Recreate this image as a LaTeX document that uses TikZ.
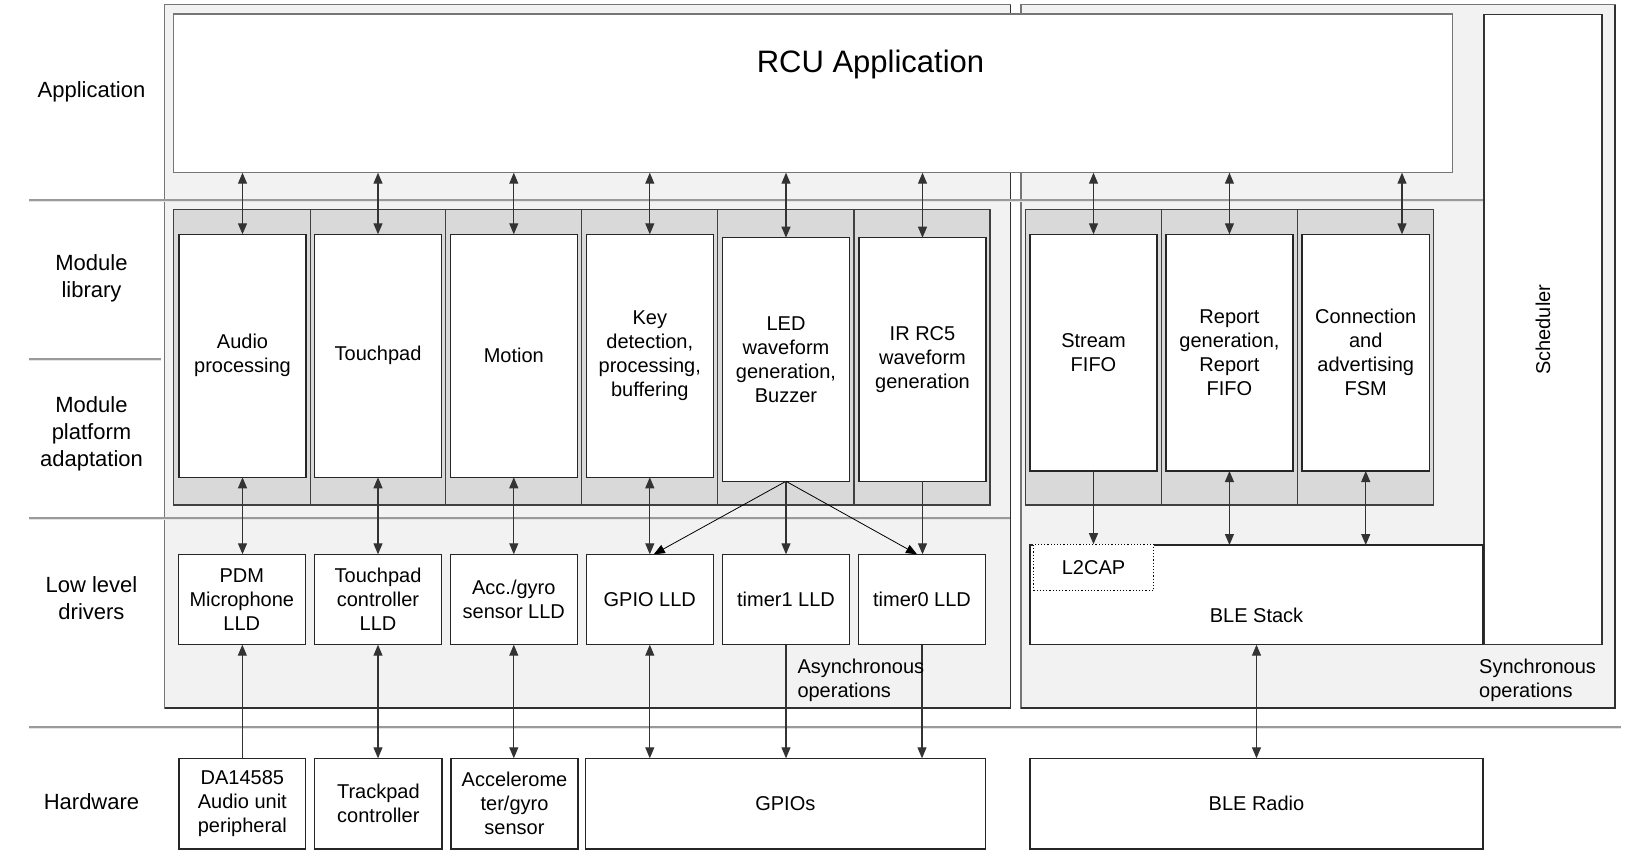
\documentclass[tikz,border=0pt]{standalone}
\usepackage{fontspec}
\setmainfont{Liberation Sans}
\usetikzlibrary{arrows.meta}
\definecolor{panelfill}{HTML}{F2F2F2}
\definecolor{cellfill}{HTML}{D9D9D9}
\definecolor{edge}{HTML}{767676}
\definecolor{pdark}{HTML}{303030}
\definecolor{sepdark}{HTML}{9A9A9A}
\definecolor{seplight}{HTML}{E4E4E4}
\newcommand{\mybox}[7]{\node[#6, minimum width={(#4-#2)*1pt}, minimum height={(#5-#3)*1pt}] (#1) at ({(#2+#4)/2},{(#3+#5)/2}) {#7};}
\tikzset{
  txt/.style={font=\fontsize{20}{24}\selectfont, align=center, text=black},
  lbl/.style={txt, inner sep=0pt},
  layerlbl/.style={lbl, font=\fontsize{22}{27}\selectfont},
  panel/.style={draw=edge, fill=panelfill, line width=1.2pt, inner sep=0pt, outer sep=0pt},
  wbox/.style={draw=black!85, fill=white, line width=1.2pt, inner sep=0pt, outer sep=0pt, txt},
  cellbox/.style={draw=black!75, fill=cellfill, line width=1.2pt, inner sep=0pt, outer sep=0pt},
  dar/.style={draw=black!80, line width=1.1pt, {Triangle[length=11pt,width=9pt]}-{Triangle[length=11pt,width=9pt]}},
  sar/.style={draw=black!80, line width=1.1pt, -{Triangle[length=11pt,width=9pt]}},
  thinar/.style={draw=black, line width=0.8pt, -{Triangle[length=11pt,width=9pt]}},
  sepd/.style={draw=sepdark, line width=1.2pt},
  sepl/.style={draw=seplight, line width=1.2pt},
}
\begin{document}
\begin{tikzpicture}[x=1pt,y=-1pt]
\useasboundingbox (0,0) rectangle (1631,864);
\fill[white] (0,0) rectangle (1631,864);

% panels
\mybox{lp}{164.7}{4.7}{1010.7}{708}{panel}{}
\mybox{rp}{1021}{4.7}{1615}{708}{panel}{}
\draw[pdark, line width=1.2pt] (lp.north east) -- (lp.south east) -- (lp.south west);
\draw[pdark, line width=1.2pt] (rp.north east) -- (rp.south east) -- (rp.south west);

% layer separators
\foreach \yy/\xa/\xb in {200/29/1484, 359/29/161, 518/29/1010, 727/29/1621} {
  \draw[sepd] (\xa,\yy) -- (\xb,\yy);
  \draw[sepl] (\xa,\yy+1.8) -- (\xb,\yy+1.8);
}

% layer labels
\node[layerlbl] (lapp) at (91.5,91.5) {Application};
\node[layerlbl] (lml) at (91.5,278.6) {Module\\library};
\node[layerlbl] (lmpa) at (91.5,434) {Module\\platform\\adaptation};
\node[layerlbl] (llld) at (91.5,598) {Low level\\drivers};
\node[layerlbl] (lhw) at (91.5,802) {Hardware};

% application
\mybox{rcu}{173.7}{14}{1452.2}{172.7}{wbox, draw=edge}{}
\node[font=\fontsize{31}{37}\selectfont, anchor=base, inner sep=0pt] (rcut) at (870.5,72.5) {RCU Application};
\mybox{sched}{1484}{14.7}{1602}{644.7}{wbox, draw=black!80}{}
\node[lbl, rotate=90] (schedt) at (sched.center) {Scheduler};

% module cells (left)
\mybox{cla}{173.7}{209.3}{310.3}{505}{cellbox}{}
\mybox{clb}{310.3}{209.3}{445.7}{505}{cellbox}{}
\mybox{clc}{445.7}{209.3}{581.7}{505}{cellbox}{}
\mybox{cld}{581.7}{209.3}{717.7}{505}{cellbox}{}
\mybox{cle}{717.7}{209.3}{854}{505}{cellbox}{}
\mybox{clf}{854}{209.3}{990}{505}{cellbox}{}
% module cells (right)
\mybox{cra}{1025.7}{209.3}{1161.5}{505}{cellbox}{}
\mybox{crb}{1161.5}{209.3}{1297.6}{505}{cellbox}{}
\mybox{crc}{1297.6}{209.3}{1433.8}{505}{cellbox}{}

% modules
\mybox{audio}{179}{234.3}{306}{477.3}{wbox}{Audio\\processing}
\mybox{touch}{314.7}{234.3}{441.3}{477.3}{wbox}{Touchpad}
\mybox{motion}{450.3}{234.3}{577.3}{477.3}{wbox}{Motion}
\mybox{key}{586.3}{234.3}{713.3}{477.3}{wbox}{Key\\detection,\\processing,\\buffering}
\mybox{led}{722.7}{237.7}{849.3}{481.3}{wbox}{LED\\waveform\\generation,\\Buzzer}
\mybox{ir}{859}{237.7}{986}{481.3}{wbox}{IR RC5\\waveform\\generation}
\mybox{stream}{1030}{234.3}{1157}{471}{wbox}{Stream\\FIFO}
\mybox{report}{1165.9}{234.3}{1293}{471}{wbox}{Report\\generation,\\Report\\FIFO}
\mybox{conn}{1302}{234.3}{1429.5}{471}{wbox}{Connection\\and\\advertising\\FSM}

% low level drivers
\mybox{pdm}{178.3}{554.3}{305.3}{644.7}{wbox}{PDM\\Microphone\\LLD}
\mybox{tpc}{314.7}{554.3}{441.3}{644.7}{wbox}{Touchpad\\controller\\LLD}
\mybox{acc}{450.3}{554.3}{577.3}{644.7}{wbox}{Acc./gyro\\sensor LLD}
\mybox{gpiolld}{586.3}{554.3}{713.3}{644.7}{wbox}{GPIO LLD}
\mybox{tmone}{722.7}{554.3}{849.3}{644.7}{wbox}{timer1 LLD}
\mybox{tmzero}{858.7}{554.3}{985.3}{644.7}{wbox}{timer0 LLD}
\mybox{ble}{1030}{545}{1483}{644.7}{wbox}{}
\node[lbl] (blet) at ([yshift=29pt]ble.south) {BLE Stack};
\mybox{ltwo}{1033.3}{544.2}{1153.8}{590.5}{wbox, draw=black, dotted, line width=0.9pt}{L2CAP}

% hardware
\mybox{da}{179}{758.3}{305.7}{849}{wbox}{DA14585\\Audio unit\\peripheral}
\mybox{track}{314.7}{758.3}{442}{849}{wbox}{Trackpad\\controller}
\mybox{accel}{451}{758.3}{578}{849}{wbox}{Accelerome\\ter/gyro\\sensor}
\mybox{gpios}{585.3}{758.3}{985.3}{849}{wbox}{GPIOs}
\mybox{radio}{1030}{758.3}{1483}{849}{wbox}{BLE Radio}

% application <-> modules
\draw[dar] (rcu.south -| audio.north) -- (audio.north);
\draw[dar] (rcu.south -| touch.north) -- (touch.north);
\draw[dar] (rcu.south -| motion.north) -- (motion.north);
\draw[dar] (rcu.south -| key.north) -- (key.north);
\draw[dar] (rcu.south -| led.north) -- (led.north);
\draw[dar] (rcu.south -| ir.north) -- (ir.north);
\draw[dar] (rcu.south -| stream.north) -- (stream.north);
\draw[dar] (rcu.south -| report.north) -- (report.north);
\coordinate (ctop) at (1402,234.3);
\draw[dar] (rcu.south -| ctop) -- (conn.north -| ctop);

% modules <-> drivers
\draw[dar] (audio.south) -- (audio.south |- pdm.north);
\draw[dar] (touch.south) -- (touch.south |- tpc.north);
\draw[dar] (motion.south) -- (motion.south |- acc.north);
\draw[dar] (key.south) -- (key.south |- gpiolld.north);
\draw[thinar] (led.south) -- ([xshift=4pt]gpiolld.north);
\draw[sar] (led.south) -- (tmone.north);
\draw[thinar] (led.south) -- ([xshift=-5pt]tmzero.north);
\draw[sar] (ir.south) -- (ir.south |- tmzero.north);
\draw[sar] (stream.south) -- (stream.south |- ltwo.north);
\draw[dar] (report.south) -- (report.south |- ble.north);
\draw[dar] (conn.south) -- (conn.south |- ble.north);

% drivers <-> hardware
\draw[sar] (da.north) -- (da.north |- pdm.south);
\draw[dar] (tpc.south) -- (tpc.south |- track.north);
\draw[dar] (acc.south) -- (acc.south |- accel.north);
\draw[dar] (gpiolld.south) -- (gpiolld.south |- gpios.north);
\draw[sar] (tmone.south) -- (tmone.south |- gpios.north);
\draw[sar] (tmzero.south) -- (tmzero.south |- gpios.north);
\draw[dar] (ble.south) -- (ble.south |- radio.north);

% operation notes
\node[lbl, align=left, anchor=west] (async) at (797.3,680) {Asynchronous\\operations};
\node[lbl, align=left, anchor=west] (sync) at (1479,680) {Synchronous\\operations};
\end{tikzpicture}
\end{document}
